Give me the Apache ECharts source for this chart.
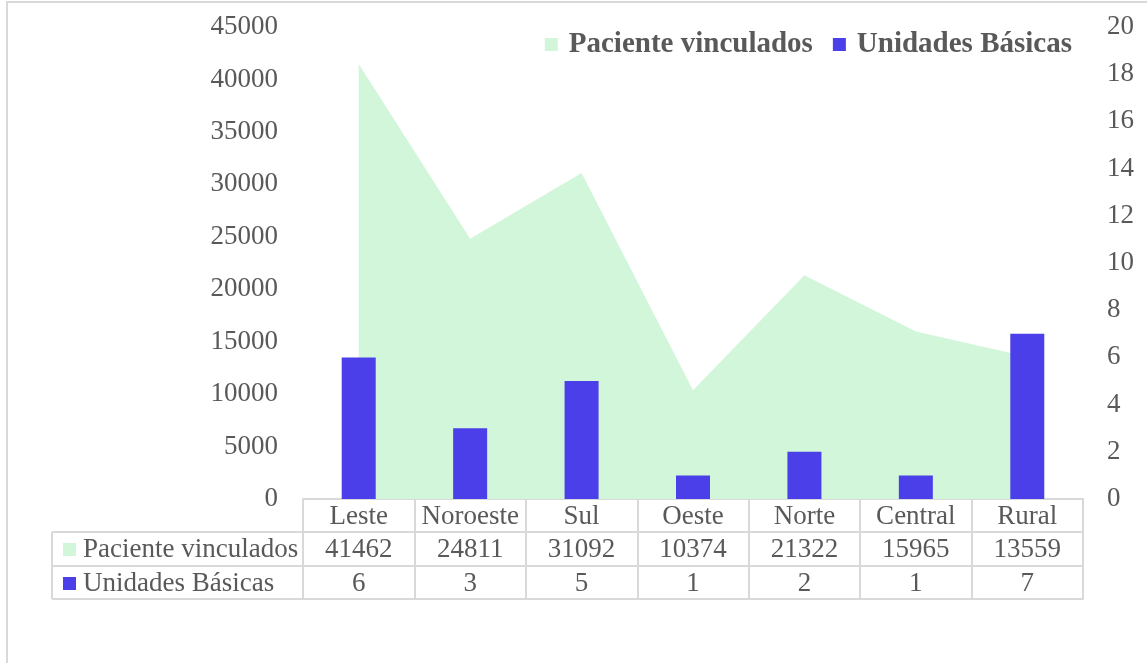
<!DOCTYPE html>
<html>
<head>
<meta charset="utf-8">
<script src="https://cdn.jsdelivr.net/npm/echarts@6/dist/echarts.min.js"></script>
<style>html,body{margin:0;padding:0;background:#fff;}#c{width:1147px;height:663px;}</style>
</head>
<body>
<div id="c"></div>
<script>
const categories = ['Leste', 'Noroeste', 'Sul', 'Oeste', 'Norte', 'Central', 'Rural'];
const pacientes = [41462, 24811, 31092, 10374, 21322, 15965, 13559];
const unidades = [6, 3, 5, 1, 2, 1, 7];
const seriesNames = ['Paciente vinculados', 'Unidades Básicas'];
const leftTicks = [0, 45000, 5000];
const rightTicks = [0, 20, 2];

const GREEN = '#d2f6da';
const BLUE = '#4a3fe8';
const TXT = '#595959';
const LINE = '#d9d9d9';
const FONT = '"Liberation Serif", "Times New Roman", serif';
const TFS = 27;

const chart = echarts.init(document.getElementById('c'), null, {renderer: 'canvas'});
const tableLine = {show: true, onZero: false, lineStyle: {color: LINE, width: 2}};
const rowTick = (len) => ({show: true, inside: false, length: len, alignWithLabel: false, interval: 0, lineStyle: {color: LINE, width: 2}});
const cellLabel = {color: TXT, fontFamily: FONT, fontSize: TFS, interval: 0, margin: 4};

chart.setOption({
  animation: false,
  backgroundColor: '#fff',
  grid: {left: 303, right: 64, top: 27, bottom: 164, outerBoundsMode: 'none', containLabel: false},
  legend: {
    right: 70, top: 25,
    itemWidth: 13, itemHeight: 13, itemGap: 20,
    icon: 'rect',
    textStyle: {color: TXT, fontFamily: FONT, fontSize: 29, fontWeight: 'bold', padding: [0, 0, 0, 6]},
    data: seriesNames
  },
  xAxis: [
    {type: 'category', data: categories, position: 'bottom', boundaryGap: true,
     axisLine: tableLine, axisTick: rowTick(33), axisLabel: cellLabel},
    {type: 'category', data: pacientes.map(String), position: 'bottom', offset: 33,
     axisLine: tableLine, axisTick: rowTick(34), axisLabel: cellLabel},
    {type: 'category', data: unidades.map(String), position: 'bottom', offset: 67,
     axisLine: tableLine, axisTick: rowTick(33), axisLabel: cellLabel},
    {type: 'category', data: categories, position: 'bottom', offset: 100,
     axisLine: tableLine, axisTick: {show: false}, axisLabel: {show: false}}
  ],
  yAxis: [
    {type: 'value', min: leftTicks[0], max: leftTicks[1], interval: leftTicks[2],
     axisLine: {show: false}, axisTick: {show: false}, splitLine: {show: false},
     axisLabel: {color: TXT, fontFamily: FONT, fontSize: 27, margin: 25, formatter: (v) => String(v)}},
    {type: 'value', min: rightTicks[0], max: rightTicks[1], interval: rightTicks[2], position: 'right',
     axisLine: {show: false}, axisTick: {show: false}, splitLine: {show: false},
     axisLabel: {color: TXT, fontFamily: FONT, fontSize: 27, margin: 24, formatter: (v) => String(v)}}
  ],
  series: [
    {name: seriesNames[0], type: 'line', xAxisIndex: 0, yAxisIndex: 0, data: pacientes,
     showSymbol: false, symbol: 'none', itemStyle: {color: GREEN},
     lineStyle: {width: 0, opacity: 0}, areaStyle: {color: GREEN, opacity: 1}, z: 1},
    {name: seriesNames[1], type: 'bar', xAxisIndex: 0, yAxisIndex: 1, data: unidades,
     barWidth: 34, itemStyle: {color: BLUE}, z: 2}
  ],
  graphic: [
    {type: 'rect', shape: {x: 7, y: 2, width: 1300, height: 800}, style: {fill: 'none', stroke: LINE, lineWidth: 2}, silent: true},
    {type: 'line', shape: {x1: 52, y1: 532, x2: 304, y2: 532}, style: {stroke: LINE, lineWidth: 2}},
    {type: 'line', shape: {x1: 52, y1: 566, x2: 304, y2: 566}, style: {stroke: LINE, lineWidth: 2}},
    {type: 'line', shape: {x1: 52, y1: 599, x2: 304, y2: 599}, style: {stroke: LINE, lineWidth: 2}},
    {type: 'line', shape: {x1: 52, y1: 532, x2: 52, y2: 599}, style: {stroke: LINE, lineWidth: 2}},
    {type: 'rect', shape: {x: 63, y: 543, width: 13, height: 13}, style: {fill: GREEN}},
    {type: 'text', x: 83, y: 550, style: {text: seriesNames[0], fill: TXT, font: TFS + 'px ' + FONT, verticalAlign: 'middle'}},
    {type: 'rect', shape: {x: 63, y: 577, width: 13, height: 13}, style: {fill: BLUE}},
    {type: 'text', x: 83, y: 584, style: {text: seriesNames[1], fill: TXT, font: TFS + 'px ' + FONT, verticalAlign: 'middle'}}
  ]
});
</script>
</body>
</html>
